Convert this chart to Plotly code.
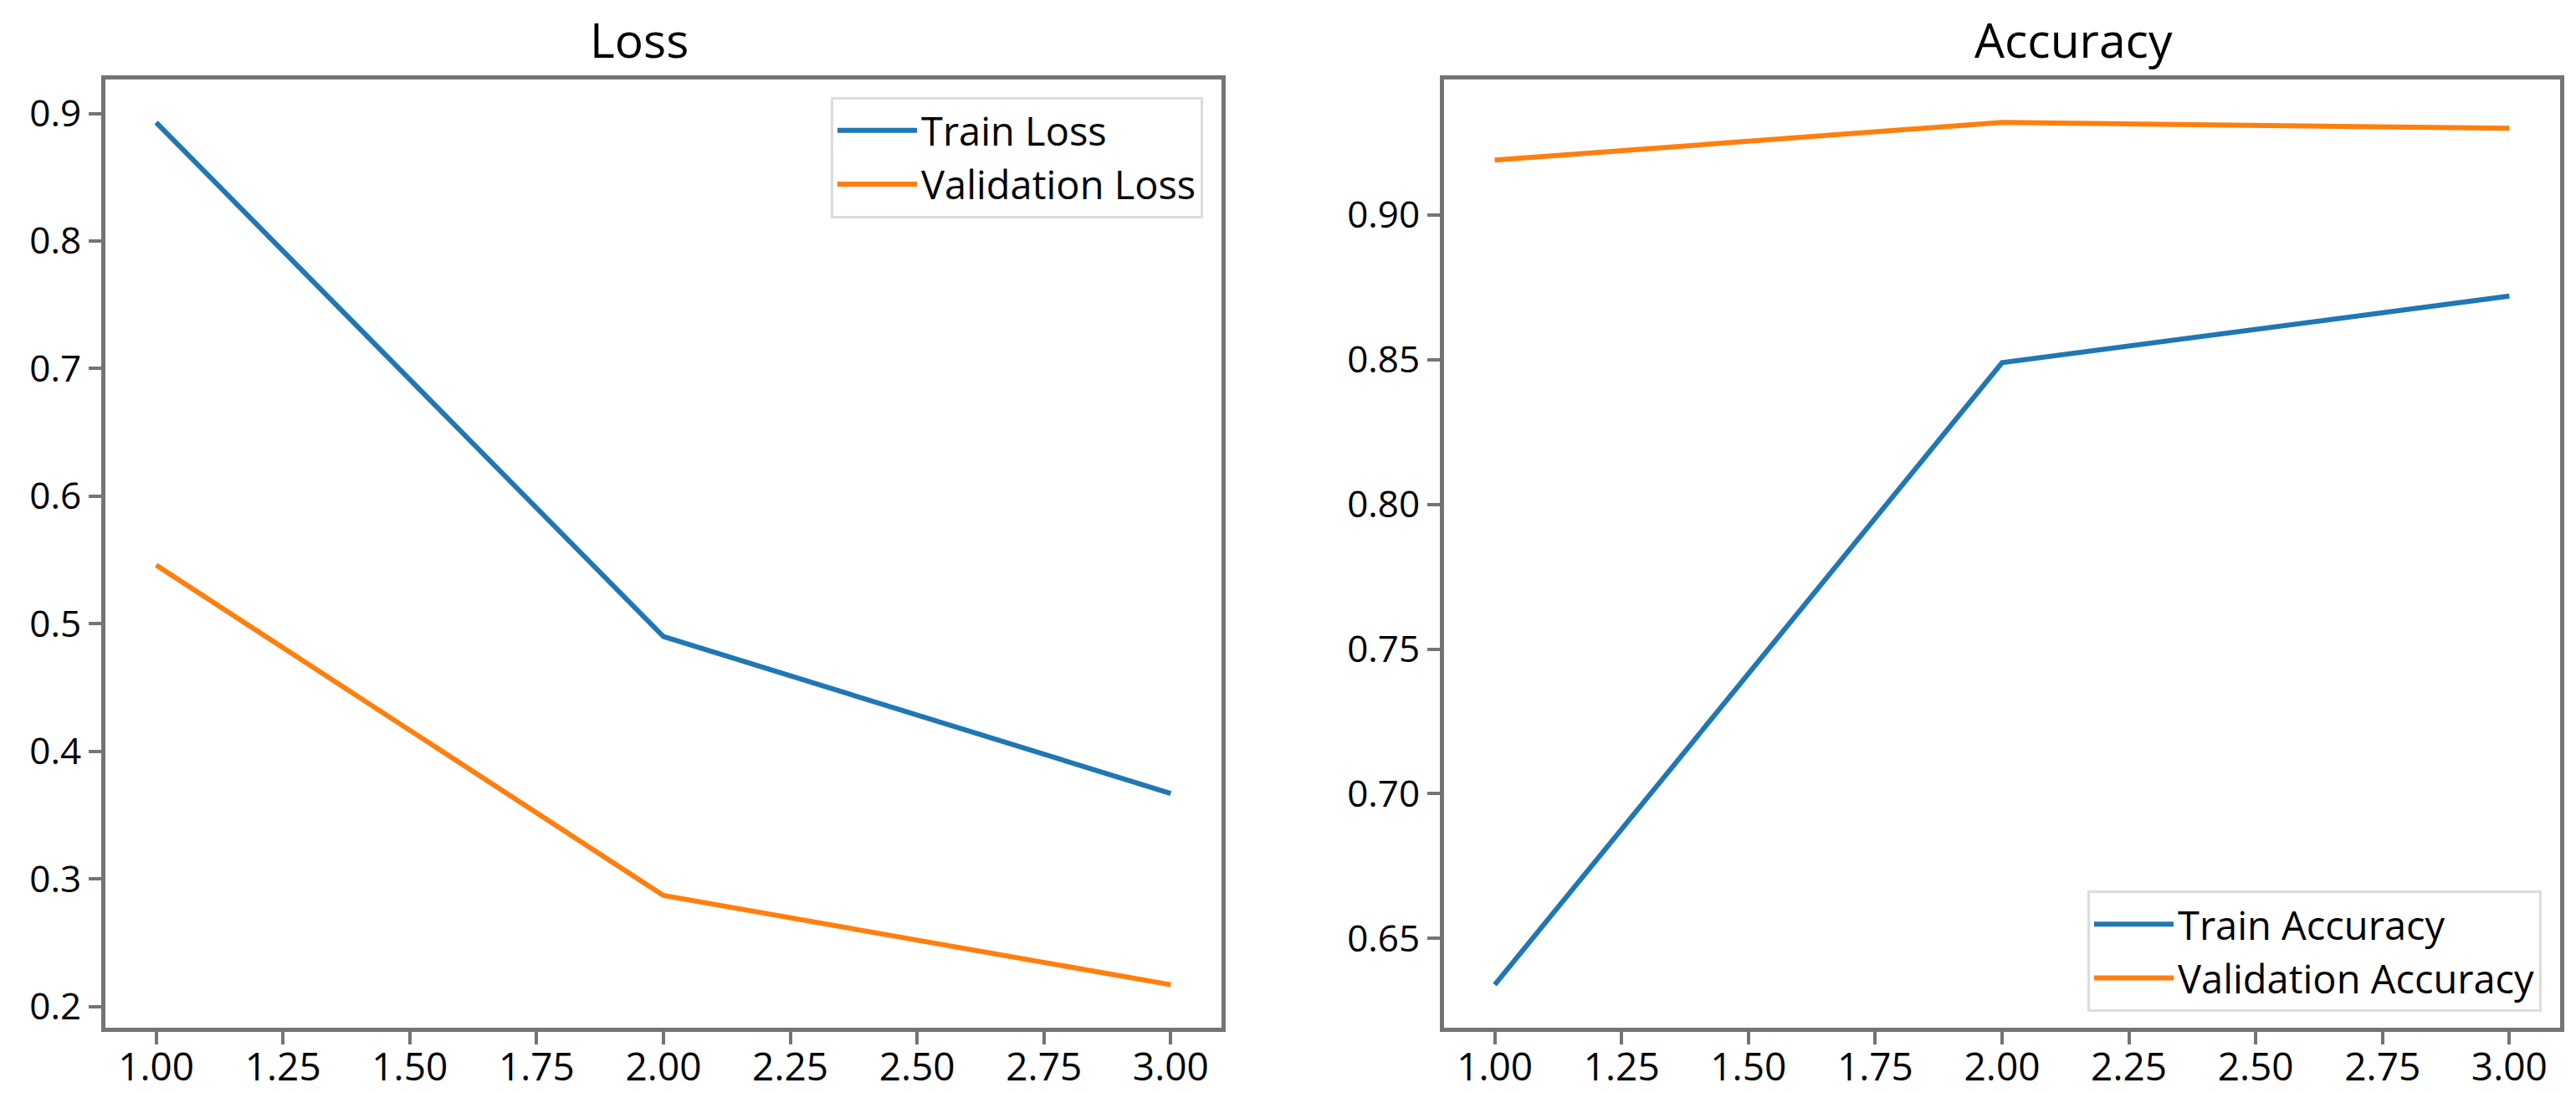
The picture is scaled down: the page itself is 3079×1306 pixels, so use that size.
import plotly.graph_objects as go

# values
epochs = [1, 2, 3]
train_loss = [0.893, 0.490, 0.367]
val_loss = [0.546, 0.287, 0.217]
train_acc = [0.634, 0.849, 0.872]
val_acc = [0.919, 0.932, 0.930]

x_ticks = [1.0, 1.25, 1.5, 1.75, 2.0, 2.25, 2.5, 2.75, 3.0]
loss_ticks = [0.2, 0.3, 0.4, 0.5, 0.6, 0.7, 0.8, 0.9]
acc_ticks = [0.65, 0.70, 0.75, 0.80, 0.85, 0.90]

BLUE = '#1f77b4'
ORANGE = '#ff7f0e'
FRAME = '#747474'
FONT = 'Open Sans'

W, H = 3079, 1306


def pad_range(values, frac=0.05):
    # matplotlib style auto margins
    lo, hi = min(values), max(values)
    span = hi - lo
    return [lo - frac * span, hi + frac * span]


fig = go.Figure()

fig.add_trace(go.Scatter(x=epochs, y=train_loss, mode='lines', name='Train Loss',
                         line=dict(color=BLUE, width=6), xaxis='x', yaxis='y', legend='legend'))
fig.add_trace(go.Scatter(x=epochs, y=val_loss, mode='lines', name='Validation Loss',
                         line=dict(color=ORANGE, width=6), xaxis='x', yaxis='y', legend='legend'))
fig.add_trace(go.Scatter(x=epochs, y=train_acc, mode='lines', name='Train Accuracy',
                         line=dict(color=BLUE, width=6), xaxis='x2', yaxis='y2', legend='legend2'))
fig.add_trace(go.Scatter(x=epochs, y=val_acc, mode='lines', name='Validation Accuracy',
                         line=dict(color=ORANGE, width=6), xaxis='x2', yaxis='y2', legend='legend2'))

axis_common = dict(showline=True, mirror=True, linecolor=FRAME, linewidth=5,
                   showgrid=False, zeroline=False, ticks='outside', ticklen=15,
                   tickwidth=4, tickcolor=FRAME)

x_range = pad_range(epochs)
legend_common = dict(bgcolor='white', bordercolor='#dcdcdc', borderwidth=3,
                     font=dict(size=47), itemwidth=95)

fig.update_layout(
    width=W, height=H,
    margin=dict(l=0, r=0, t=0, b=0),
    paper_bgcolor='white', plot_bgcolor='white',
    font=dict(family=FONT, color='black', size=44),
    xaxis=dict(domain=[118 / W, 1452 / W], range=x_range, tickvals=x_ticks,
               tickformat='.2f', tickfont=dict(size=46), ticklabelstandoff=-12,
               anchor='y', **axis_common),
    yaxis=dict(domain=[1 - 1223 / H, 1 - 87 / H], range=pad_range(train_loss + val_loss),
               tickvals=loss_ticks, tickformat='.1f', anchor='x', **axis_common),
    xaxis2=dict(domain=[1718 / W, 3052 / W], range=x_range, tickvals=x_ticks,
                tickformat='.2f', tickfont=dict(size=46), ticklabelstandoff=-12,
                anchor='y2', **axis_common),
    yaxis2=dict(domain=[1 - 1223 / H, 1 - 87 / H], range=pad_range(train_acc + val_acc),
                tickvals=acc_ticks, tickformat='.2f', anchor='x2', **axis_common),
    legend=dict(x=1430 / W, y=1 - 108 / H, xanchor='right', yanchor='top', **legend_common),
    legend2=dict(x=3030 / W, y=1 - 1204 / H, xanchor='right', yanchor='bottom', **legend_common),
    annotations=[
        dict(text='Loss', x=756 / W, y=1 - 39 / H, xref='paper', yref='paper',
             xanchor='center', yanchor='middle', showarrow=False, font=dict(size=57)),
        dict(text='Accuracy', x=2470 / W, y=1 - 39 / H, xref='paper', yref='paper',
             xanchor='center', yanchor='middle', showarrow=False, font=dict(size=57)),
    ],
)

fig.write_html("out.html")
